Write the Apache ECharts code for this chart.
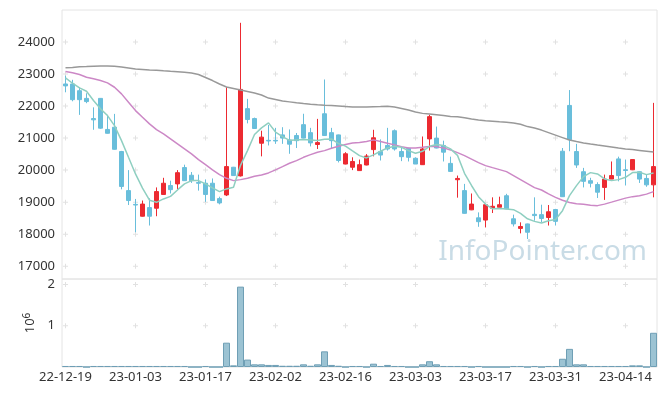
<!DOCTYPE html>
<html>
<head>
<meta charset="utf-8">
<script src="https://cdn.jsdelivr.net/npm/echarts@6/dist/echarts.min.js"></script>
<style>
html,body{margin:0;padding:0;background:#fff;}
#chart{width:665px;height:396px;}
</style>
</head>
<body>
<div id="chart"></div>
<script>
const dates = ['22-12-19','22-12-20','22-12-21','22-12-22','22-12-23','22-12-26','22-12-27','22-12-28','22-12-29','23-01-02',
'23-01-03','23-01-04','23-01-05','23-01-06','23-01-09','23-01-10','23-01-11','23-01-12','23-01-13','23-01-16',
'23-01-17','23-01-18','23-01-19','23-01-20','23-01-25','23-01-26','23-01-27','23-01-30','23-01-31','23-02-01',
'23-02-02','23-02-03','23-02-06','23-02-07','23-02-08','23-02-09','23-02-10','23-02-13','23-02-14','23-02-15',
'23-02-16','23-02-17','23-02-20','23-02-21','23-02-22','23-02-23','23-02-24','23-02-27','23-02-28','23-03-02',
'23-03-03','23-03-06','23-03-07','23-03-08','23-03-09','23-03-10','23-03-13','23-03-14','23-03-15','23-03-16',
'23-03-17','23-03-20','23-03-21','23-03-22','23-03-23','23-03-24','23-03-27','23-03-28','23-03-29','23-03-30',
'23-03-31','23-04-03','23-04-04','23-04-05','23-04-06','23-04-07','23-04-10','23-04-11','23-04-12','23-04-13',
'23-04-14','23-04-17','23-04-18','23-04-19','23-04-20'];

const openPrices = [22690,22690,22480,22240,21610,22240,21270,21340,20580,19360,
18930,18560,18830,18810,19240,19520,19570,20080,19840,19610,
19590,19590,19110,19225,20090,19820,21920,21610,20840,20930,
20930,21100,20940,21080,21420,21170,20800,21760,21170,21100,
20190,20090,19985,20160,20640,20580,20770,21230,20580,20680,
20370,20170,20975,21000,20770,20210,19700,19360,18760,18510,
18440,18810,18840,19200,18480,18180,18320,18620,18610,18520,
18770,20590,22020,20580,19950,19670,19550,19460,19720,20350,
20010,20010,19950,19740,19540];
const closePrices = [22630,22200,22200,22140,21570,21310,21150,20650,19490,19050,
18910,18940,18560,19330,19590,19390,19920,19670,19670,19590,
19240,19050,18975,20110,19830,22520,21580,21300,21030,20910,
20910,21000,20810,20920,21000,20850,20860,21080,20920,20300,
20510,20270,20170,20440,21010,20470,20660,20660,20420,20400,
20190,20660,21670,20690,20560,19960,19740,18650,18940,18390,
18920,18870,18920,18790,18320,18240,18060,18580,18490,18700,
18400,19170,20950,20160,19650,19590,19310,19720,19830,19830,
19990,20330,19720,19540,20110];
const lowPrices = [22430,22150,21725,22090,21260,21290,21140,20640,19400,18910,
18060,18550,18270,18560,19240,19270,19410,19660,19600,19360,
19010,19040,18930,19190,19820,19800,21460,21290,20430,20770,
20820,20820,20510,20690,20990,20740,20660,21070,20690,20240,
20180,20000,19980,20150,20430,20300,20610,20610,20280,20270,
20190,20160,20610,20680,20270,19950,19140,18640,18750,18230,
18210,18660,18830,18780,18240,18025,17850,18420,18370,18270,
18270,19160,20590,20070,19460,19460,19130,19070,19720,19650,
19520,20000,19600,19480,19150];
const highPrices = [22950,22820,22590,22400,21960,22250,21725,21756,20600,20000,
19100,19050,19120,19460,19760,19670,20000,20170,19940,19860,
19710,19740,19170,22590,20100,24600,22225,21640,21230,21410,
21320,21340,21270,21160,21760,21320,21600,22830,21320,21110,
20560,20400,20330,20500,21260,20960,21320,21270,20710,20700,
20400,21050,21730,21360,20920,20420,19830,19570,19270,18680,
18930,19150,19170,19260,18610,18370,18330,19150,18920,18910,
18790,20690,22500,20820,20070,19760,19620,19860,20270,20420,
20330,20340,19960,19880,22100];

const volumes = [25000,25000,25000,0,25000,25000,25000,25000,25000,25000,
25000,25000,25000,25000,25000,25000,25000,25000,0,0,
25000,0,0,590000,40000,1950000,180000,65000,65000,50000,
50000,30000,30000,30000,65000,30000,65000,380000,50000,30000,
0,25000,25000,0,80000,25000,50000,25000,25000,0,
0,65000,140000,65000,25000,25000,25000,25000,0,25000,
0,0,0,0,25000,25000,0,25000,0,25000,
25000,200000,440000,65000,65000,25000,25000,25000,25000,25000,
25000,40000,40000,0,830000];

const ma5 = [22880,22713,22569,22463,22172,21913,21703,21391,20922,20400,
19881,19440,19060,18995,19100,19181,19381,19569,19672,19672,
19569,19444,19328,19413,19463,20150,20609,21110,21320,21475,
21190,21047,20930,20944,20953,20944,20922,20963,20975,20830,
20750,20600,20453,20381,20475,20588,20694,20744,20713,20609,
20525,20588,20744,20797,20766,20663,20460,19900,19520,19170,
18940,18790,18800,18785,18766,18650,18480,18400,18350,18420,
18460,18734,19203,19516,19797,19922,19881,19725,19672,19703,
19775,19922,19931,19859,19913];
const ma20 = [23078,23038,22984,22900,22850,22797,22725,22588,22381,22119,
21859,21650,21444,21266,21131,20975,20819,20663,20506,20328,
20172,20006,19859,19744,19672,19703,19744,19806,19850,19913,
20006,20109,20213,20297,20400,20484,20556,20609,20681,20744,
20797,20850,20859,20891,20944,20891,20838,20788,20734,20694,
20694,20713,20734,20734,20694,20631,20547,20453,20344,20234,
20141,20078,20016,19953,19828,19703,19578,19453,19380,19260,
19150,19060,18990,18953,18931,18906,18891,18938,19000,19063,
19125,19172,19203,19250,19328];
const ma60 = [23194,23203,23225,23234,23244,23250,23250,23244,23219,23188,
23156,23141,23125,23119,23100,23084,23072,23053,23031,22984,
22891,22797,22688,22594,22547,22500,22453,22406,22344,22250,
22203,22156,22131,22103,22078,22056,22041,22028,22016,22000,
21984,21969,21969,21972,21978,21984,21991,21969,21922,21875,
21813,21772,21750,21728,21703,21678,21666,21634,21597,21566,
21541,21525,21509,21494,21472,21431,21359,21313,21250,21172,
21094,21016,20938,20891,20850,20813,20781,20750,20719,20688,
20663,20641,20616,20591,20563];

const priceTicks = [17000,18000,19000,20000,21000,22000,23000,24000];
const volumeTicks = [1000000,2000000];
const dateTickIdx = [0,10,20,30,40,50,60,70,80];

const candleData = dates.map((d, i) => [openPrices[i], closePrices[i], lowPrices[i], highPrices[i]]);
const priceCross = [];
const volCross = [];
dateTickIdx.forEach(k => {
  priceTicks.forEach(t => priceCross.push([dates[k], t]));
  volumeTicks.forEach(t => volCross.push([dates[k], t]));
});

const FONT = '"Noto Sans", "DejaVu Sans", sans-serif';
const crossSymbol = 'path://M2,0H3V2H5V3H3V5H2V3H0V2H2Z';

const chart = echarts.init(document.getElementById('chart'), null, {renderer: 'canvas'});
chart.setOption({
  animation: false,
  backgroundColor: '#fff',
  textStyle: {fontFamily: FONT},
  graphic: [{
    type: 'text', right: 18, top: 238, z: 0, silent: true,
    style: {text: 'InfoPointer.com', font: '28px ' + FONT, fill: '#c9dce6'}
  }],
  grid: [
    {left: 62, right: 8, top: 10, bottom: 117, show: true, borderColor: '#e4e4e4', borderWidth: 1},
    {left: 62, right: 8, top: 279, bottom: 29, show: true, borderColor: '#e4e4e4', borderWidth: 1}
  ],
  xAxis: [
    {type: 'category', gridIndex: 0, data: dates, boundaryGap: true,
     axisLine: {show: false}, axisTick: {show: false}, axisLabel: {show: false}, splitLine: {show: false}},
    {type: 'category', gridIndex: 1, data: dates, boundaryGap: true,
     axisLine: {show: false}, axisTick: {show: false}, splitLine: {show: false},
     axisLabel: {interval: 9, fontSize: 13, color: '#333', margin: 4, fontFamily: FONT, hideOverlap: false}}
  ],
  yAxis: [
    {type: 'value', gridIndex: 0, min: 16600, max: 25000, scale: true,
     axisLine: {show: false}, axisTick: {show: false}, splitLine: {show: false},
     axisLabel: {customValues: priceTicks, fontSize: 13, color: '#333', margin: 7, fontFamily: FONT,
                 formatter: v => String(v)}},
    {type: 'value', gridIndex: 1, min: 0, max: 2135000,
     axisLine: {show: false}, axisTick: {show: false}, splitLine: {show: false},
     axisLabel: {customValues: volumeTicks, fontSize: 13, color: '#333', margin: 7, fontFamily: FONT,
                 formatter: v => String(v / 1000000)},
     name: '10{s|6}', nameLocation: 'middle', nameRotate: 90, nameGap: 22,
     nameTextStyle: {fontSize: 13, color: '#333', fontFamily: FONT,
       rich: {s: {fontSize: 10, color: '#333', fontFamily: FONT, verticalAlign: 'top', padding: [0, 0, 6, 0]}}}}
  ],
  series: [
    {type: 'scatter', xAxisIndex: 0, yAxisIndex: 0, data: priceCross, symbol: crossSymbol, symbolSize: 5,
     silent: true, z: 1, itemStyle: {color: '#d9d9d9'}},
    {type: 'scatter', xAxisIndex: 1, yAxisIndex: 1, data: volCross, symbol: crossSymbol, symbolSize: 5,
     silent: true, z: 1, itemStyle: {color: '#d9d9d9'}},
    {type: 'candlestick', xAxisIndex: 0, yAxisIndex: 0, data: candleData, barWidth: 4, z: 3,
     itemStyle: {color: '#ec2a31', color0: '#69bedb', borderColor: '#ec2a31', borderColor0: '#69bedb', borderWidth: 1}},
    {type: 'line', xAxisIndex: 0, yAxisIndex: 0, data: ma60, symbol: 'none', z: 4,
     lineStyle: {color: '#999999', width: 1.5}},
    {type: 'line', xAxisIndex: 0, yAxisIndex: 0, data: ma20, symbol: 'none', z: 4,
     lineStyle: {color: '#cc88c6', width: 1.5}},
    {type: 'line', xAxisIndex: 0, yAxisIndex: 0, data: ma5, symbol: 'none', z: 4,
     lineStyle: {color: '#8fcfc1', width: 1.5}},
    {type: 'bar', xAxisIndex: 1, yAxisIndex: 1, data: volumes, barCategoryGap: '0%', z: 3,
     itemStyle: {color: '#9cc3d3', borderColor: '#6f9fb5', borderWidth: 1}}
  ]
});
</script>
</body>
</html>
